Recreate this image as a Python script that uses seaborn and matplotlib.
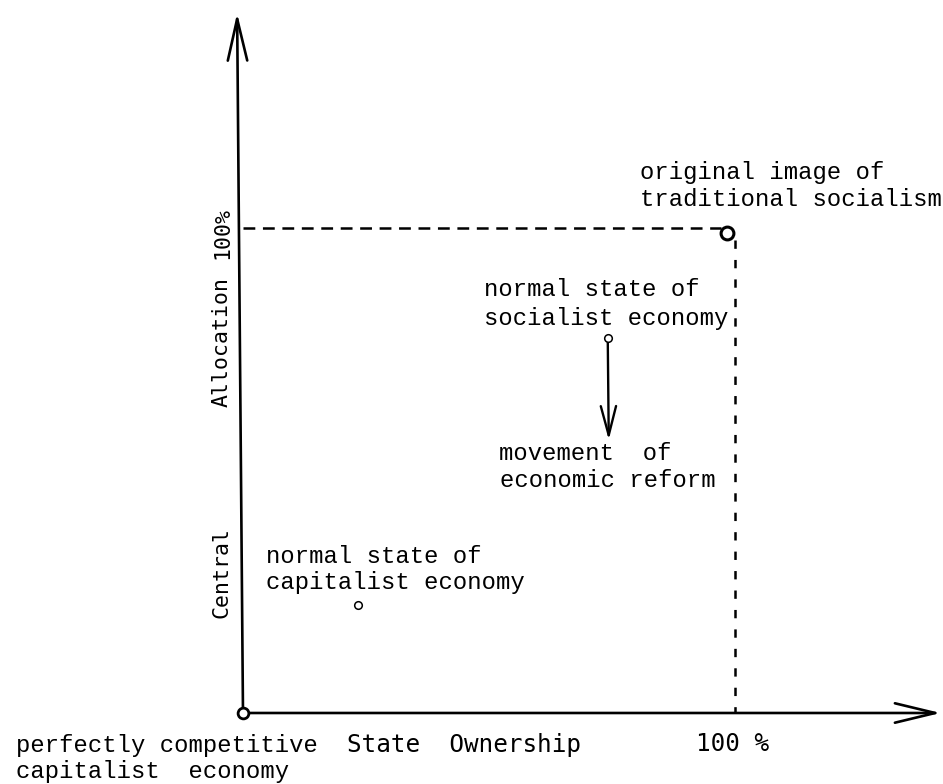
import matplotlib
matplotlib.use("Agg")
import matplotlib.pyplot as plt
import seaborn as sns
import pandas as pd
from matplotlib.patches import ArrowStyle

sns.set_theme(style="white")
plt.rcParams["lines.scale_dashes"] = False

# ---- data (percent of state ownership / central allocation) ----
point_names = ["perfectly competitive capitalist economy",
               "original image of traditional socialism",
               "normal state of socialist economy",
               "normal state of capitalist economy"]
ownership = [0, 99, 74.6, 23.5]
allocation = [0, 99, 77.3, 22.3]
reform_end = (74.8, 56.3)          # end of the reform arrow
axis_max = 100                     # the 100% reference level

label_lines = [
    ("original image of", 81.2, 111.5),
    ("traditional socialism", 81.2, 105.8),
    ("normal state of", 49.3, 87.4),
    ("socialist economy", 49.3, 81.4),
    ("movement  of", 52.4, 53.6),
    ("economic reform", 52.6, 47.9),
    ("normal state of", 4.7, 32.2),
    ("capitalist economy", 4.7, 27.0),
    ("perfectly competitive", -46.4, -6.8),
    ("capitalist  economy", -46.4, -12.1),
]
x_axis_texts = [("State  Ownership", 21.3, -6.6), ("100 %", 92.6, -6.4)]
y_axis_texts = [("Central", -4.3, 29.0), ("Allocation", -4.3, 76.5), ("100%", -4.3, 99.0)]

df = pd.DataFrame({"name": point_names, "x": ownership, "y": allocation})

fig = plt.figure(figsize=(9.43, 7.84), dpi=100)
ax = fig.add_axes([0, 0, 1, 1])
ax.set_xlim(-49.69, 143.15)
ax.set_ylim(-14.64, 147.0)
ax.axis("off")

# axes arrows
ax.annotate("", xy=(142.7, 0), xytext=(0, 0),
            arrowprops=dict(arrowstyle=ArrowStyle("->", head_length=29, head_width=7),
                            mutation_scale=1, lw=1.9, color="black",
                            shrinkA=0, shrinkB=0))
ax.annotate("", xy=(-1.2, 144.3), xytext=(0, 0),
            arrowprops=dict(arrowstyle=ArrowStyle("->", head_length=30, head_width=7),
                            mutation_scale=1, lw=1.9, color="black",
                            shrinkA=0, shrinkB=0))

# dashed 100% guides
sns.lineplot(x=[0, df.x[1] - 1.2], y=[axis_max, axis_max], ax=ax, color="black",
             lw=1.8, estimator=None, sort=False)
ax.lines[-1].set_dashes([8.5, 5.5])
sns.lineplot(x=[axis_max + 0.6, axis_max + 0.6], y=[df.y[1] - 1.5, 0], ax=ax, color="black",
             lw=1.8, estimator=None, sort=False, orient="y")
ax.lines[-1].set_dashes([6, 8])

# points
sns.scatterplot(data=df.iloc[[0]], x="x", y="y", ax=ax, s=60, marker="o",
                facecolor="white", edgecolor="black", linewidth=2.0, zorder=5, legend=False)
sns.scatterplot(data=df.iloc[[1]], x="x", y="y", ax=ax, s=85, marker="o",
                facecolor="white", edgecolor="black", linewidth=2.2, zorder=5, legend=False)
sns.scatterplot(data=df.iloc[[2, 3]], x="x", y="y", ax=ax, s=30, marker="o",
                facecolor="white", edgecolor="black", linewidth=1.1, zorder=5, legend=False)

# reform arrow
ax.annotate("", xy=reform_end, xytext=(df.x[2], df.y[2] - 0.9),
            arrowprops=dict(arrowstyle=ArrowStyle("->", head_length=21, head_width=5.5),
                            mutation_scale=1, lw=1.7, color="black",
                            shrinkA=0, shrinkB=0))

mono = ["Liberation Mono", "DejaVu Sans Mono"]
for txt, x, y in label_lines:
    ax.text(x, y, txt, family=mono, fontsize=17.2, ha="left", va="center", color="black")
for txt, x, y in x_axis_texts:
    ax.text(x, y, txt, family=["DejaVu Sans Mono"], fontsize=17.5, ha="left",
            va="center", color="black")
for txt, x, y in y_axis_texts:
    ax.text(x, y, txt, family=["DejaVu Sans Mono"], fontsize=15.5, ha="center",
            va="center", rotation=90, color="black")

fig.savefig("out.png", dpi=100, facecolor="white")
